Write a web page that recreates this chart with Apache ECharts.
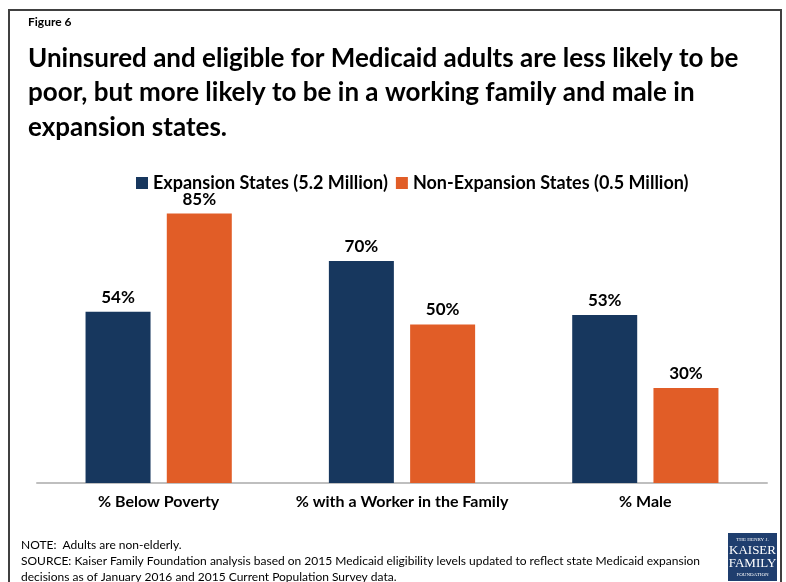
<!DOCTYPE html>
<html><head><meta charset="utf-8">
<script src="https://cdn.jsdelivr.net/npm/echarts@6/dist/echarts.min.js"></script>
<style>html,body{margin:0;padding:0;background:#fff}#c{width:786px;height:582px}</style>
</head><body><div id="c"></div>
<script>
const categories = ['% Below Poverty', '% with a Worker in the Family', '% Male'];
const expansion = [54, 70, 53];
const nonExpansion = [85, 50, 30];
const seriesNames = ['Expansion States (5.2 Million)', 'Non-Expansion States (0.5 Million)'];
const titleLines = ['Uninsured and eligible for Medicaid adults are less likely to be', 'poor, but more likely to be in a working family and male in', 'expansion states.'];
const noteLines = ['NOTE:  Adults are non-elderly.', 'SOURCE: Kaiser Family Foundation analysis based on 2015 Medicaid eligibility levels updated to reflect state Medicaid expansion', 'decisions as of January 2016 and 2015 Current Population Survey data.'];

const F = 'Lato, "Open Sans", sans-serif';
const chart = echarts.init(document.getElementById('c'));
const lbl = {show: true, position: 'top', distance: 6, formatter: '{c}%', fontFamily: F, fontWeight: 'bold', fontSize: 17, color: '#000'};
chart.setOption({
  animation: false,
  backgroundColor: '#fff',
  grid: {left: 37, right: 19, top: 166, bottom: 99},
  legend: {
    top: 169, left: 131, itemWidth: 12, itemHeight: 12, itemGap: 8,
    icon: 'rect',
    textStyle: {fontFamily: F, fontWeight: 'bold', fontSize: 18, color: '#000'},
    data: seriesNames
  },
  xAxis: {
    type: 'category', data: categories,
    axisLine: {lineStyle: {color: '#bfbfbf', width: 2}},
    axisTick: {show: false},
    axisLabel: {interval: 0, fontFamily: F, fontWeight: 'bold', fontSize: 16, color: '#000', margin: 11}
  },
  yAxis: {type: 'value', min: 0, max: 100, show: false, splitLine: {show: false}},
  series: [
    {name: seriesNames[0], type: 'bar', data: expansion, barWidth: 65, barGap: '25%', itemStyle: {color: '#17375E'}, label: lbl},
    {name: seriesNames[1], type: 'bar', data: nonExpansion, barWidth: 65, itemStyle: {color: '#E15D27'}, label: lbl}
  ],
  graphic: [
    {type: 'rect', shape: {x: 9, y: 10, width: 772, height: 590}, style: {fill: 'none', stroke: '#404040', lineWidth: 2}},
    {type: 'text', left: 28, top: 16, style: {text: 'Figure 6', font: 'bold 12px ' + F, fill: '#000'}},
    {type: 'text', left: 28, top: 41, style: {text: titleLines.join('\n'), font: 'bold 26px ' + F, lineHeight: 34.5, fill: '#000'}},
    {type: 'text', left: 21, top: 537, style: {text: noteLines.join('\n'), font: '12px ' + F, lineHeight: 16, fill: '#000'}},
    {type: 'rect', shape: {x: 728, y: 533, width: 49, height: 48}, style: {fill: '#1F3E6E'}},
    {type: 'text', x: 752.5, y: 537, style: {text: 'THE HENRY J.', font: '5px serif', fill: '#fff', align: 'center'}},
    {type: 'text', x: 752.5, y: 544, style: {text: 'KAISER', font: '13px "Liberation Serif", serif', fill: '#fff', align: 'center'}},
    {type: 'text', x: 752.5, y: 557, style: {text: 'FAMILY', font: '13px "Liberation Serif", serif', fill: '#fff', align: 'center'}},
    {type: 'text', x: 752.5, y: 572, style: {text: 'FOUNDATION', font: '5px serif', fill: '#fff', align: 'center'}}
  ]
});
</script></body></html>
